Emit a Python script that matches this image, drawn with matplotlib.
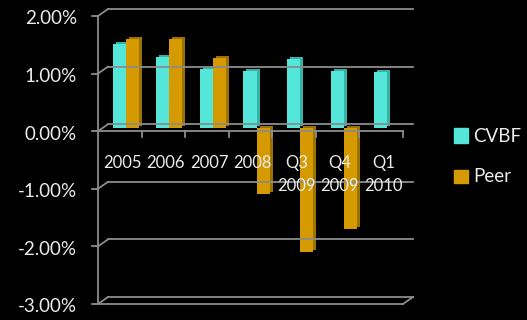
import numpy as np
import matplotlib
matplotlib.use('Agg')
import matplotlib.pyplot as plt
from matplotlib.transforms import offset_copy
from matplotlib.patches import Rectangle

# data (percent)
categories = ['2005', '2006', '2007', '2008', 'Q3\n2009', 'Q4\n2009', 'Q1\n2010']
cvbf = [1.46, 1.23, 1.02, 1.00, 1.20, 0.99, 0.98]
peer = [1.55, 1.55, 1.22, -1.15, -2.15, -1.75, np.nan]
yticks = [2, 1, 0, -1, -2, -3]
ytick_labels = ['2.00%', '1.00%', '0.00%', '-1.00%', '-2.00%', '-3.00%']

cyan = '#55e6da'
cyan_dark = '#36b3a9'
gold = '#d49a00'
gold_dark = '#9c7200'
txt = '#ececec'
grid_c = '#8c8c8c'

plt.rcParams['font.family'] = ['Lato', 'DejaVu Sans']

fig = plt.figure(figsize=(5.27, 3.2), dpi=100, facecolor='black')
ax = fig.add_axes([98/527, 16/320, 305/527, 288/320])
ax.set_facecolor('black')
ax.set_xlim(-0.5, 6.5)
ax.set_ylim(-3, 2)
for s in ax.spines.values():
    s.set_visible(False)
ax.set_xticks([])
ax.set_yticks([])

back = offset_copy(ax.transData, fig=fig, x=10, y=7, units='dots')
mid = offset_copy(ax.transData, fig=fig, x=6, y=3, units='dots')
side = offset_copy(ax.transData, fig=fig, x=9, y=5, units='dots')

# back wall gridlines + connectors from the front axis
for v in yticks:
    ax.plot([-0.5, 6.5], [v, v], color=grid_c, lw=1.3, transform=back, clip_on=False)
    p0 = ax.transData.transform((-0.5, v))
    ax.plot([p0[0], p0[0] + 10], [p0[1], p0[1] + 7], color=grid_c, lw=1.3,
            transform=None, clip_on=False)
    ax.plot([p0[0] - 6, p0[0]], [p0[1], p0[1]], color=grid_c, lw=1.3,
            transform=None, clip_on=False)

# front axis and floor
ax.plot([-0.5, -0.5], [-3, 2], color=grid_c, lw=1.3, clip_on=False)
ax.plot([-0.5, 6.5], [-3, -3], color=grid_c, lw=1.3, clip_on=False)
pr = ax.transData.transform((6.5, -3))
ax.plot([pr[0], pr[0] + 10], [pr[1], pr[1] + 7], color=grid_c, lw=1.3,
        transform=None, clip_on=False)

# category axis at zero
ax.plot([-0.5, 6.5], [0, 0], color=grid_c, lw=1.3, clip_on=False)
for b in np.arange(0.5, 7, 1.0):
    pb = ax.transData.transform((b, 0))
    ax.plot([pb[0], pb[0]], [pb[1], pb[1] - 6], color=grid_c, lw=1.3,
            transform=None, clip_on=False)

x = np.arange(len(categories))
w = 0.3
# side faces (drawn slightly back/right), then front faces
ax.bar(x - w/2, cvbf, w, color=cyan_dark, transform=side, clip_on=False)
ax.bar(x - w/2, cvbf, w, color=cyan, transform=mid, clip_on=False)
ax.bar(x + w/2, peer, w, color=gold_dark, transform=side, clip_on=False)
ax.bar(x + w/2, peer, w, color=gold, transform=mid, clip_on=False)

# labels
for xi, lab in zip(x, categories):
    ax.text(xi + 0.05, -0.42, lab, ha='center', va='top', color=txt, fontsize=12,
            linespacing=1.5)
ylab_tr = offset_copy(ax.transData, fig=fig, x=-21, y=-3, units='dots')
for v, lab in zip(yticks, ytick_labels):
    ax.text(-0.5, v, lab, ha='right', va='center', color=txt, fontsize=13.5,
            transform=ylab_tr)

# legend
fig.patches.append(Rectangle((454/527, 1 - 143/320), 14/527, 15/320, color=cyan,
                             transform=fig.transFigure))
fig.patches.append(Rectangle((454/527, 1 - 183/320), 14/527, 13/320, color=gold,
                             transform=fig.transFigure))
fig.text(473/527, 1 - 136/320, 'CVBF', color=txt, fontsize=13.5, va='center')
fig.text(473/527, 1 - 176/320, 'Peer', color=txt, fontsize=13.5, va='center')

fig.savefig('out.png', dpi=100, facecolor='black')
